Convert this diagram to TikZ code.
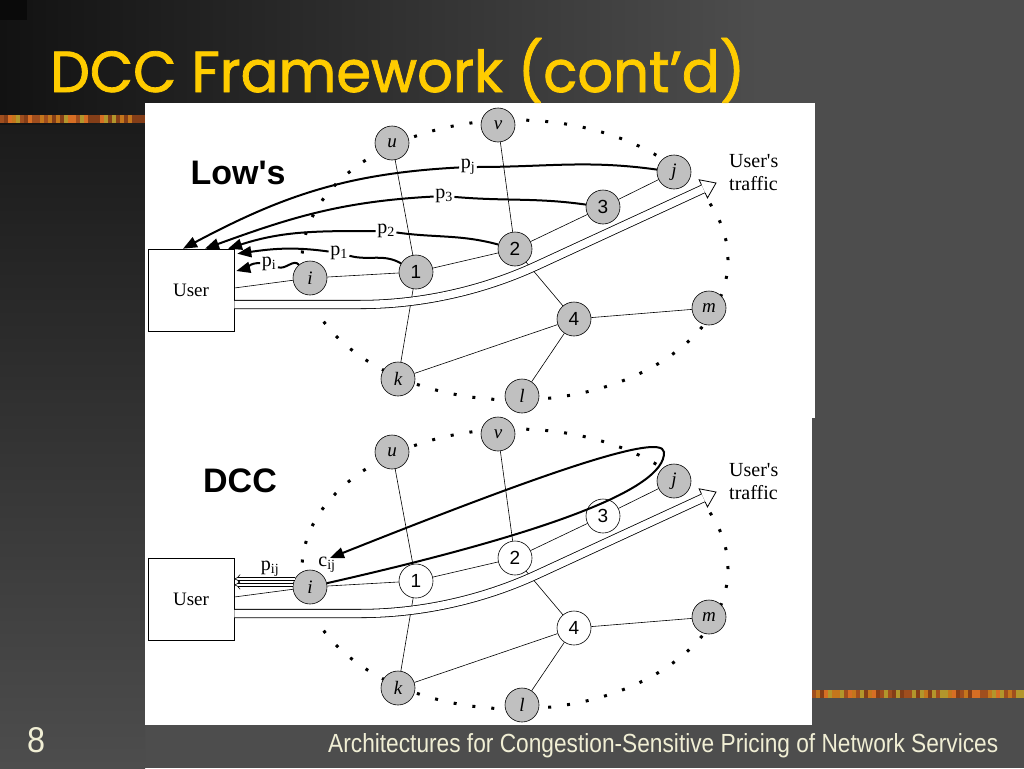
\documentclass[tikz,border=0pt]{standalone}
\usepackage{fontspec}
\setmainfont{Liberation Serif}
\setsansfont{Liberation Sans}
\newfontfamily\titlefont{Poppins}[FakeBold=1.4]
\usetikzlibrary{arrows.meta,calc}
\definecolor{slidegray}{RGB}{77,77,77}
\definecolor{slidedark}{RGB}{18,18,18}
\definecolor{titleyellow}{RGB}{255,204,0}
\definecolor{footcream}{RGB}{240,238,212}
\definecolor{nodegray}{RGB}{192,192,192}
\definecolor{stripe0}{RGB}{196,118,28}
\definecolor{stripe1}{RGB}{160,78,30}
\definecolor{stripe2}{RGB}{178,150,44}
\definecolor{stripe3}{RGB}{132,62,24}
\definecolor{stripe4}{RGB}{214,110,36}

\begin{document}
\begin{tikzpicture}[x=1pt, y=1pt]
    % Style definitions
    \tikzset{
      router/.style={circle, draw, line width=0.6pt, minimum size=34pt, inner sep=0pt,
        font=\sffamily\fontsize{19}{19}\selectfont},
      host/.style={router, fill=nodegray, font=\rmfamily\itshape\fontsize{19}{19}\selectfont},
      userbox/.style={draw, line width=0.6pt, fill=white, minimum width=86pt,
        minimum height=82pt, font=\fontsize{19}{19}\selectfont},
      link/.style={line width=0.6pt},
      dotring/.style={line width=3pt, dash pattern=on 3pt off 16pt},
      traffic/.style={line width=0.8pt, double=white, double distance=7.5pt},
      traffichead/.style={line width=0.8pt, line join=miter},
      pquote/.style={line width=0.6pt, double=white, double distance=2.6pt, -{Implies}},
      price/.style={line width=2pt, -{Triangle[length=14pt, width=11pt]}},
      plbl/.style={inner sep=1.5pt, font=\fontsize{20}{20}\selectfont},
      tlbl/.style={inner sep=0pt, align=left, font=\fontsize{20}{23}\selectfont},
      biglbl/.style={font=\sffamily\bfseries\fontsize{34}{34}\selectfont},
    }
    % ------------------------------------------------------------------
    % Slide: background, stripes, white panels, title and footer
    % ------------------------------------------------------------------
    \useasboundingbox (0,0) rectangle (1024,-768);
    \fill[slidegray] (0,0) rectangle (1024,-768);
    \shade[left color=slidedark, right color=slidegray] (0,0) rectangle (760,-125);
    \shade[top color=slidedark!85!slidegray, bottom color=slidegray] (0,-125) rectangle (145,-768);
    \fill[black!96] (0,0) rectangle (27,-20);
    \pgfmathsetseed{11}
    \fill[stripe0] (0,-115) rectangle (145,-123);
    \fill[stripe0] (812,-690) rectangle (1024,-698);
    \foreach \sx in {0,4,...,144}{
      \pgfmathrandominteger{\sk}{0}{4}
      \fill[stripe\sk] (\sx,-115) rectangle ++(4,-8);
    }
    \foreach \sx in {812,816,...,1020}{
      \pgfmathrandominteger{\sk}{0}{4}
      \fill[stripe\sk] (\sx,-690) rectangle ++(4,-8);
    }
    \fill[white] (145,-103) rectangle (815,-418);
    \fill[white] (145,-418) rectangle (812,-725);

    \node[anchor=base west, inner sep=0pt, text=titleyellow] (title) at (50,-92)
      {\resizebox{695pt}{54pt}{\titlefont\fontsize{60}{60}\selectfont DCC Framework (cont’d)}};
    \node[anchor=base west, inner sep=0pt, text=footcream] (pageno) at (27,-752)
      {\resizebox{18pt}{25pt}{\sffamily 8}};
    \node[anchor=base west, inner sep=0pt, text=footcream] (footer) at (328,-752)
      {\resizebox{670pt}{19pt}{\sffamily Architectures for Congestion-Sensitive Pricing of Network Services}};

    % ------------------------------------------------------------------
    % Helper macro: one copy of the network, node names prefixed by #1,
    % shifted down by #2, with the path routers 1..4 filled in #3.
    % ------------------------------------------------------------------
    \newcommand{\netgraph}[3]{%
      \begin{scope}[yshift=#2]
        % dotted boundary of the network
        \draw[dotring] (515,-260) ellipse [x radius=213, y radius=140];
        % user and nodes
        \node[userbox] (#1user) at (191,-290) {User};
        \node[host] (#1i) at (310,-278) {i};
        \node[host] (#1u) at (392,-143) {u};
        \node[host] (#1v) at (498,-125) {v};
        \node[host] (#1j) at (674,-172) {j};
        \node[host] (#1k) at (398,-379) {k};
        \node[host] (#1l) at (522,-396) {l};
        \node[host] (#1m) at (709,-308) {m};
        \node[router, fill=#3] (#11) at (416,-272) {1};
        \node[router, fill=#3] (#12) at (515,-249) {2};
        \node[router, fill=#3] (#13) at (603,-207) {3};
        \node[router, fill=#3] (#14) at (574,-319) {4};
        % links
        \draw[link] ([yshift=2pt]#1user.east) -- (#1i);
        \draw[link] (#1i) -- (#11);
        \draw[link] (#11) -- (#12);
        \draw[link] (#12) -- (#13);
        \draw[link] (#13) -- (#1j);
        \draw[link] (#1u) -- (#11);
        \draw[link] (#11) -- (#1k);
        \draw[link] (#1v) -- (#12);
        \draw[link] (#12) -- (#14);
        \draw[link] (#1k) -- (#14);
        \draw[link] (#14) -- (#1m);
        \draw[link] (#14) -- (#1l);
        % the user's traffic along the path, with an open head
        \coordinate (#1bend) at (536,-266);
        \coordinate (#1sink) at (716,-183);
        \coordinate (#1base) at ($(#1sink)!14pt!(#1bend)$);
        \draw[traffic] ([yshift=-14.5pt]#1user.east) -- (360,-304.5)
          .. controls (420,-304.5) and (481.5,-291) .. (#1bend) -- (#1base);
        \draw[traffichead] ($(#1base)!4.5pt!-90:(#1sink)$) -- ($(#1base)!10pt!-90:(#1sink)$)
          -- (#1sink) -- ($(#1base)!10pt!90:(#1sink)$) -- ($(#1base)!4.5pt!90:(#1sink)$);
        \node[tlbl, anchor=west] (#1tlbl) at (729,-173) {User\textquotesingle s\\traffic};
      \end{scope}%
    }

    \netgraph{a}{0pt}{nodegray}
    \netgraph{b}{-309pt}{white}

    % Low's: each node on the path sends its price back to the user
    \node[biglbl] (lows) at (238,-173) {Low\textquotesingle s};
    \node[plbl] (lpj) at (468,-167) {p\textsubscript{j}};
    \node[plbl] (lp3) at (444,-196) {p\textsubscript{3}};
    \node[plbl] (lp2) at (386,-231) {p\textsubscript{2}};
    \node[plbl] (lp1) at (339,-253) {p\textsubscript{1}};
    \node[plbl] (lpi) at (269,-264) {p\textsubscript{i}};
    \draw[price] (aj) to[out=172, in=0] (lpj) to[out=183, in=28] ([xshift=-8pt]auser.north);
    \draw[price] (a3) to[out=172, in=-5] (lp3) to[out=183, in=20] ([xshift=14pt]auser.north);
    \draw[price] (a2) to[out=165, in=-8] (lp2) to[out=180, in=18] ([xshift=37pt]auser.north);
    \draw[price] (a1) to[out=150, in=-15] (lp1) to[out=172, in=8] ([shift={(3pt,-5pt)}]auser.north east);
    \draw[price] (ai) to[out=130, in=-20] (lpi) to[out=175, in=15] ([shift={(2pt,19pt)}]auser.east);

    % DCC: the charge c_ij comes back to i, which quotes p_ij to the user
    \begin{scope}[yshift=-309pt]
      \node[biglbl] (dcc) at (240,-172) {DCC};
      \node[plbl] (lpij) at (270,-260) {p\textsubscript{ij}};
      \node[plbl] (lcij) at (327,-256) {c\textsubscript{ij}};
      \coordinate (cijtip) at (330,-249);
      \draw[price] (bi) .. controls (540,-226) and (666,-181) .. (664,-143)
        .. controls (662,-121) and (516,-175) .. (cijtip);
      \draw[pquote] (bi.152) -- (bi.152 -| buser.east);
      \draw[pquote] (bi.173) -- (bi.173 -| buser.east);
    \end{scope}
\end{tikzpicture}
\end{document}
